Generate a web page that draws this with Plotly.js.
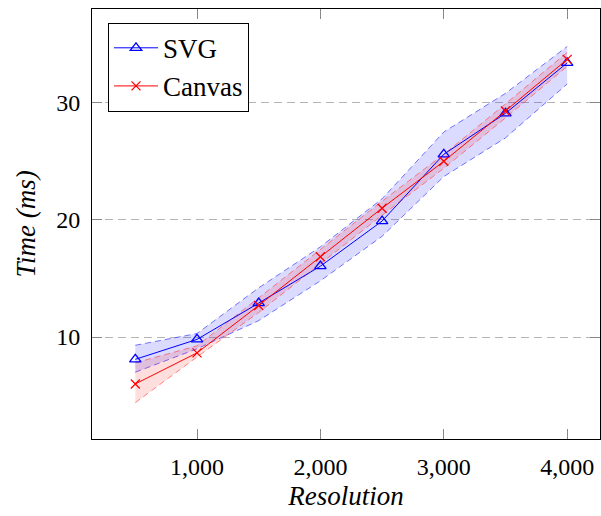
<!DOCTYPE html>
<html>
<head>
<meta charset="utf-8">
<script src="https://cdn.plot.ly/plotly-3.0.1.min.js"></script>
<style>html,body{margin:0;padding:0;background:#fff;}#chart{width:601px;height:516px;}</style>
</head>
<body>
<div id="chart"></div>
<script>
const resolution = [500, 1000, 1500, 2000, 2500, 3000, 3500, 4000];
const svgTime    = [8.1, 9.8, 12.9, 16.05, 19.9, 25.6, 29.1, 33.4];
const svgUpper   = [9.3, 10.3, 14.2, 17.7, 21.8, 27.5, 30.8, 34.8];
const svgLower   = [7.0, 9.0, 11.4, 14.8, 18.6, 23.7, 27.0, 31.6];
const canvasTime  = [6.0, 8.65, 12.7, 16.85, 21.0, 25.0, 29.3, 33.7];
const canvasUpper = [7.8, 9.25, 13.35, 17.5, 21.6, 25.6, 29.9, 34.3];
const canvasLower = [4.4, 8.3, 12.1, 16.25, 20.4, 24.4, 28.7, 33.1];
const xTicks = [1000, 2000, 3000, 4000];
const yTicks = [10, 20, 30];
const seriesNames = ["SVG", "Canvas"];

const font = "Liberation Serif, Times New Roman, serif";

function band(upper, lower, fill, edge) {
  return [
    {x: resolution, y: lower, type: "scatter", mode: "lines", showlegend: false, hoverinfo: "skip",
     line: {color: edge, width: 1, dash: "6px,4px"}},
    {x: resolution, y: upper, type: "scatter", mode: "lines", showlegend: false, hoverinfo: "skip",
     fill: "tonexty", fillcolor: fill,
     line: {color: edge, width: 1, dash: "6px,4px"}}
  ];
}

const data = [
  ...band(svgUpper, svgLower, "rgba(0,0,255,0.14)", "rgba(60,60,255,0.7)"),
  ...band(canvasUpper, canvasLower, "rgba(255,0,0,0.13)", "rgba(255,60,60,0.6)"),
  {x: resolution, y: svgTime, type: "scatter", mode: "lines+markers", name: seriesNames[0],
   line: {color: "#0000ff", width: 1},
   marker: {symbol: "triangle-up-open", size: 10, color: "#0000ff", line: {width: 1.3, color: "#0000ff"}}},
  {x: resolution, y: canvasTime, type: "scatter", mode: "lines+markers", name: seriesNames[1],
   line: {color: "#ff0000", width: 1},
   marker: {symbol: "x-thin-open", size: 9, color: "#ff0000", line: {width: 1.3, color: "#ff0000"}}}
];

const layout = {
  width: 601, height: 516,
  margin: {l: 92, r: 1, t: 9, b: 77},
  paper_bgcolor: "#fff", plot_bgcolor: "#fff",
  font: {family: font, size: 24, color: "#000"},
  showlegend: true,
  legend: {
    x: 0.0315, y: 0.968, xanchor: "left", yanchor: "top",
    bgcolor: "#fff", bordercolor: "#000", borderwidth: 1,
    font: {family: font, size: 27, color: "#000"},
    traceorder: "normal", tracegroupgap: 0, itemwidth: 44
  },
  xaxis: {
    range: [149, 4266], tickvals: xTicks, tickformat: ",d",
    showline: true, linecolor: "#000", linewidth: 1, mirror: "ticks",
    ticks: "inside", ticklen: 10, tickcolor: "#888", tickwidth: 1,
    showgrid: false, zeroline: false, ticklabelstandoff: 6,
    tickfont: {family: font, size: 24},
    title: {text: "<i>Resolution</i>", font: {family: font, size: 27}, standoff: 7},
    automargin: false
  },
  yaxis: {
    range: [1.3, 38], tickvals: yTicks,
    showline: true, linecolor: "#000", linewidth: 1, mirror: "ticks",
    ticks: "inside", ticklen: 10, tickcolor: "#888", tickwidth: 1,
    showgrid: true, gridcolor: "#b4b4b4", gridwidth: 1, griddash: "8px,5px",
    zeroline: false, ticklabelstandoff: 6,
    tickfont: {family: font, size: 24},
    title: {text: "<i>Time (ms)</i>", font: {family: font, size: 27}, standoff: 12},
    automargin: false
  }
};

Plotly.newPlot("chart", data, layout, {displayModeBar: false, staticPlot: true});
</script>
</body>
</html>
